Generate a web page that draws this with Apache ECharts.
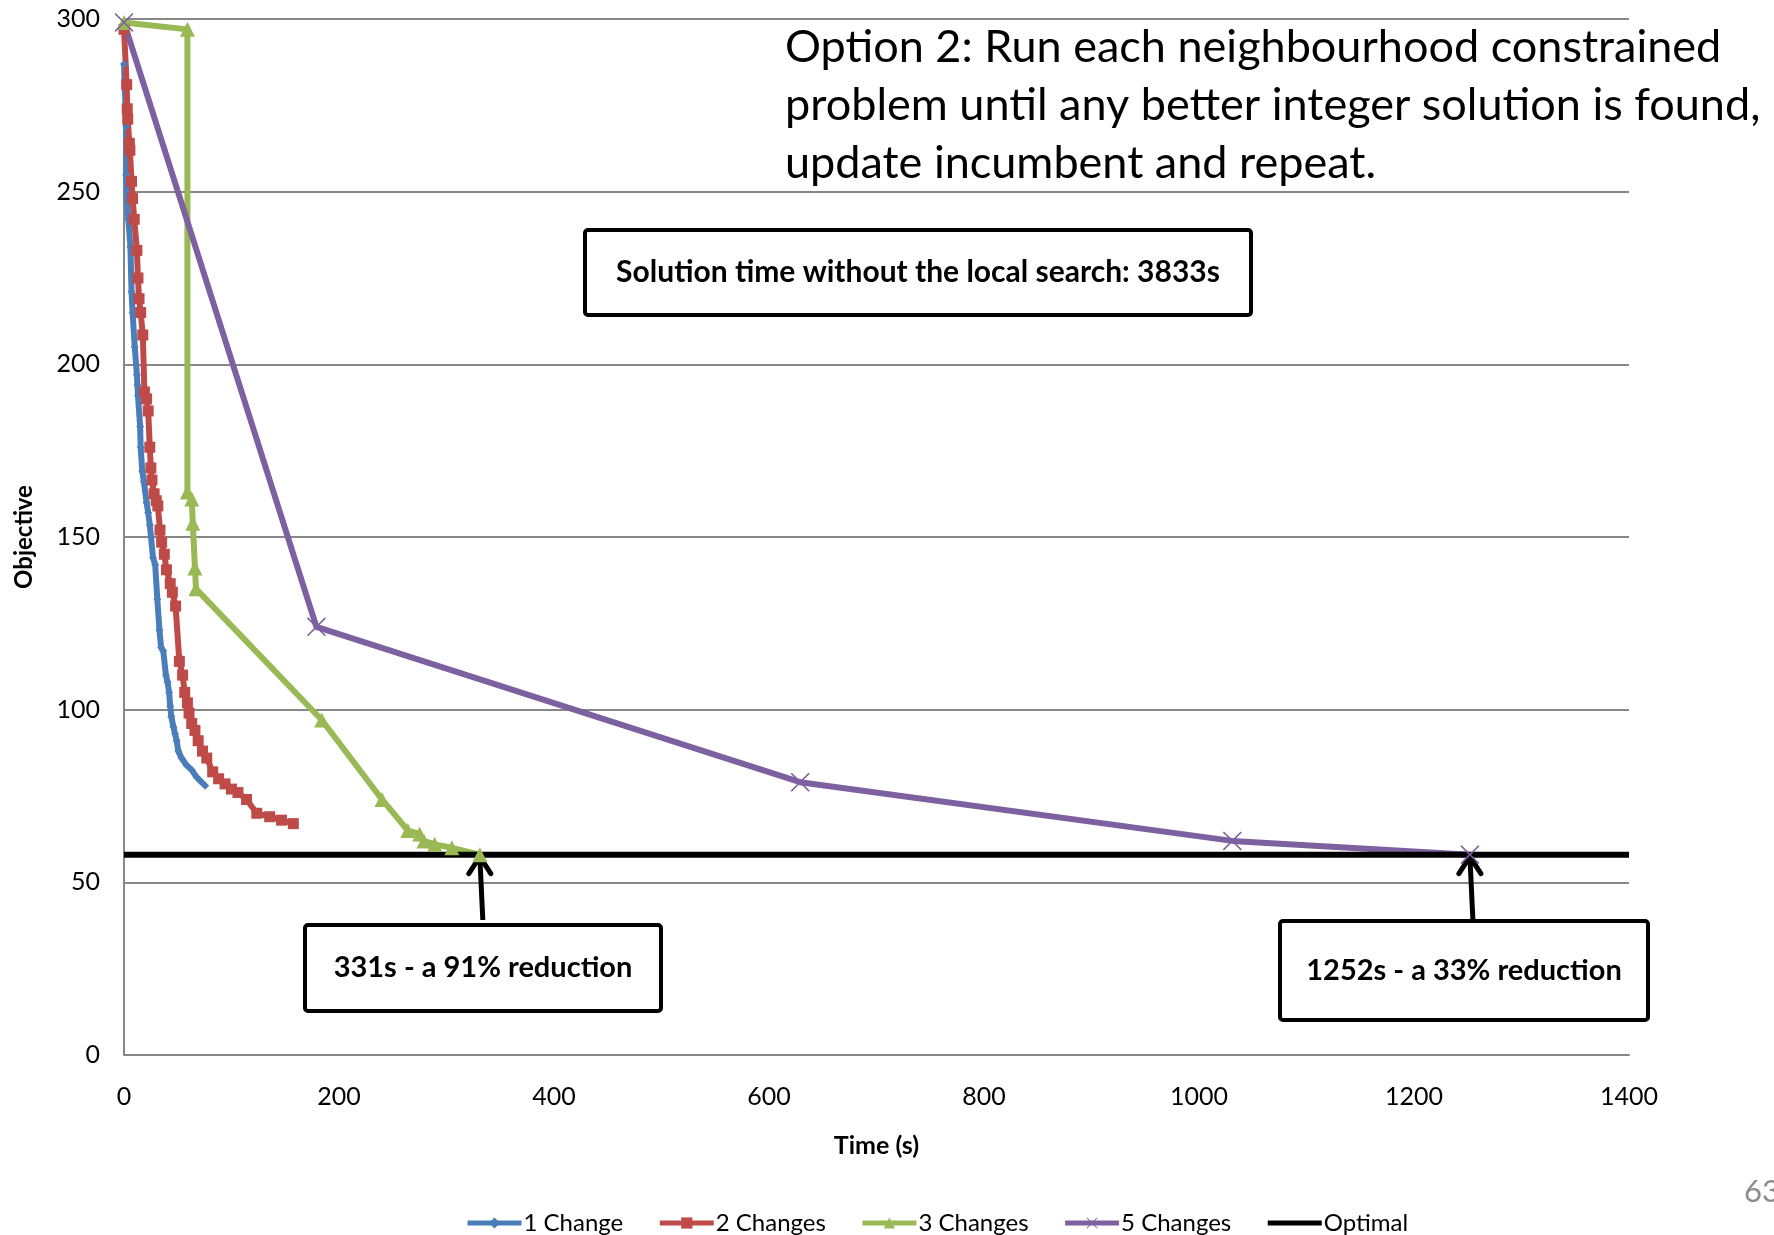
<!DOCTYPE html>
<html>
<head>
<meta charset="utf-8">
<title>Local search convergence</title>
<script src="https://cdn.jsdelivr.net/npm/echarts@6/dist/echarts.min.js"></script>
<style>
  html, body { margin: 0; padding: 0; background: #fff; }
  #chart { width: 1774px; height: 1235px; }
</style>
</head>
<body>
<div id="chart"></div>
<script>
// Objective value against elapsed time for each neighbourhood size
const change1Time = [0, 2, 2, 3, 4, 6, 7, 8, 10, 12, 12.5, 13, 15, 15.5, 17, 18.5, 21, 22.5, 24, 27, 29, 31, 33, 34.5, 36.5, 39, 40.5, 42, 43, 44, 46, 47.5, 49, 50.5, 53.5, 58, 63, 67.5, 70.5, 75.5];
const change1Obj  = [287, 269, 255, 247, 242, 234, 221, 215, 205, 197, 194, 191, 182, 176, 169, 166, 160, 157, 153.5, 144, 142, 132, 123, 118, 117, 110, 108, 105, 101, 98, 95, 93, 91, 88, 86, 84, 82.5, 80.5, 79.5, 78];

const change2Time = [0, 2.5, 3, 3.5, 5, 5.5, 7, 8, 9.5, 12, 13, 14, 15.5, 17.5, 19, 21, 22.5, 24, 25, 26, 28, 30, 31.5, 33.5, 35, 37.5, 39.5, 43, 45, 48, 51.5, 54.5, 56.5, 59, 60.5, 63, 66, 69, 73, 77, 82.5, 88, 94, 100, 106, 114, 123.5, 135.5, 146.5, 157.5];
const change2Obj  = [297, 281, 274, 271, 264, 262, 253, 248, 242, 233, 225, 219, 215, 208.5, 192, 190, 186.5, 176, 170, 166.5, 162.5, 160.5, 159, 152, 148.5, 145, 140.5, 136.5, 134, 130, 114, 110, 105, 102, 99, 96, 94, 91, 88, 86, 82, 80, 78.5, 77, 76, 74, 70, 69, 68, 67];

const change3Time = [0, 59, 59, 63, 64, 66, 67, 184, 240, 264, 275, 279, 289, 305, 331];
const change3Obj  = [299, 297, 163, 161, 154, 141, 135, 97, 74, 65, 64, 62, 61, 60, 58];

const change5Time = [0, 179, 629, 1031, 1252];
const change5Obj  = [299, 124, 79, 62, 58];

const optimalTime = [0, 1400];
const optimalObj  = [58, 58];

const seriesNames = ['1 Change', '2 Changes', '3 Changes', '5 Changes', 'Optimal'];
const xTicks = { min: 0, max: 1400, step: 200 };
const yTicks = { min: 0, max: 300, step: 50 };

const headline = 'Option 2: Run each neighbourhood constrained\nproblem until any better integer solution is found,\nupdate incumbent and repeat.';
const baselineNote = 'Solution time without the local search: 3833s';
const note3 = '331s - a 91% reduction';
const note5 = '1252s - a 33% reduction';
const pageNumber = '63';

const zip = (xs, ys) => xs.map((x, i) => [x, ys[i]]);

const FONT = 'Lato, "Open Sans", sans-serif';
const GRID_GREY = '#878787';
const crossSymbol = 'path://M0,6L6,0L50,44L94,0L100,6L56,50L100,94L94,100L50,56L6,100L0,94L44,50Z';

const chart = echarts.init(document.getElementById('chart'), null, { renderer: 'canvas' });

// the reference line gets a plain line in the legend, without a marker
const legendItems = seriesNames.map(name =>
  name === 'Optimal' ? { name: name, itemStyle: { opacity: 0 } } : { name: name });

const option = {
  animation: false,
  backgroundColor: '#ffffff',
  textStyle: { fontFamily: FONT, color: '#000' },
  grid: { left: 124, right: 145, top: 19, bottom: 180 },
  xAxis: {
    type: 'value',
    min: xTicks.min, max: xTicks.max, interval: xTicks.step,
    name: 'Time (s)', nameLocation: 'middle', nameGap: 78,
    nameTextStyle: { fontFamily: FONT, fontWeight: 'bold', fontSize: 25, color: '#000' },
    axisLine: { show: true, lineStyle: { color: GRID_GREY, width: 2 } },
    axisTick: { show: false },
    splitLine: { show: false },
    axisLabel: { fontFamily: FONT, fontSize: 25, color: '#000', margin: 29,
                 formatter: v => String(v) }
  },
  yAxis: {
    type: 'value',
    min: yTicks.min, max: yTicks.max, interval: yTicks.step,
    name: 'Objective', nameLocation: 'middle', nameGap: 88, nameRotate: 90,
    nameTextStyle: { fontFamily: FONT, fontWeight: 'bold', fontSize: 24, color: '#000' },
    axisLine: { show: true, lineStyle: { color: GRID_GREY, width: 2 } },
    axisTick: { show: false },
    splitLine: { show: true, lineStyle: { color: GRID_GREY, width: 2 } },
    axisLabel: { fontFamily: FONT, fontSize: 25, color: '#000', margin: 24,
                 formatter: v => String(v) }
  },
  legend: {
    data: legendItems,
    left: 460, top: 1206,
    itemWidth: 54, itemHeight: 14, itemGap: 34,
    lineStyle: { width: 5 },
    textStyle: { fontFamily: FONT, fontSize: 24, color: '#000', padding: [0, 0, 0, -3] }
  },
  series: [
    {
      name: seriesNames[0], type: 'line', data: zip(change1Time, change1Obj),
      symbol: 'diamond', symbolSize: 8,
      itemStyle: { color: '#4A7EBB' }, lineStyle: { color: '#4A7EBB', width: 6 }
    },
    {
      name: seriesNames[1], type: 'line', data: zip(change2Time, change2Obj),
      symbol: 'rect', symbolSize: 11,
      itemStyle: { color: '#BE4B48' }, lineStyle: { color: '#BE4B48', width: 6 }
    },
    {
      name: seriesNames[2], type: 'line', data: zip(change3Time, change3Obj),
      symbol: 'triangle', symbolSize: 15,
      itemStyle: { color: '#98B954' }, lineStyle: { color: '#98B954', width: 6 }
    },
    {
      name: seriesNames[3], type: 'line', data: zip(change5Time, change5Obj),
      symbol: crossSymbol, symbolSize: 19,
      itemStyle: { color: '#7D60A0' }, lineStyle: { color: '#7D60A0', width: 6 }
    },
    {
      name: seriesNames[4], type: 'line', data: zip(optimalTime, optimalObj),
      symbol: 'none',
      itemStyle: { color: '#000' }, lineStyle: { color: '#000', width: 6 }
    }
  ]
};

chart.setOption(option);

// Annotation boxes and arrows pointing at the runs that reach the optimum
function noteBox(x, y, w, h, text, size) {
  return {
    type: 'group',
    children: [
      { type: 'rect', shape: { x: x, y: y, width: w, height: h, r: 3 },
        style: { fill: '#fff', stroke: '#000', lineWidth: 4 } },
      { type: 'text', x: x + w / 2, y: y + h / 2,
        style: { text: text, fontFamily: FONT, fontWeight: 'bold', fontSize: size, fill: '#000',
                 align: 'center', verticalAlign: 'middle' } }
    ]
  };
}

function arrowTo(tip, tailX, tailY) {
  return {
    type: 'group',
    children: [
      { type: 'line', shape: { x1: tailX, y1: tailY, x2: tip[0], y2: tip[1] + 2 },
        style: { stroke: '#000', lineWidth: 5 } },
      { type: 'polyline',
        shape: { points: [[tip[0] - 11, tip[1] + 19], [tip[0], tip[1] + 2], [tip[0] + 11, tip[1] + 19]] },
        style: { stroke: '#000', lineWidth: 5, fill: null, lineJoin: 'miter', lineCap: 'round' } }
    ]
  };
}

const tip3 = chart.convertToPixel({ gridIndex: 0 }, [change3Time[change3Time.length - 1], change3Obj[change3Obj.length - 1]]);
const tip5 = chart.convertToPixel({ gridIndex: 0 }, [change5Time[change5Time.length - 1], change5Obj[change5Obj.length - 1]]);

chart.setOption({
  graphic: [
    { type: 'text', left: 785, top: 18,
      style: { text: headline, fontFamily: FONT, fontSize: 45, lineHeight: 58, fill: '#000' } },
    noteBox(585, 230, 666, 85, baselineNote, 30),
    noteBox(305, 925, 356, 86, note3, 29),
    noteBox(1280, 921, 368, 99, note5, 29),
    arrowTo(tip3, tip3[0] + 3, 920),
    arrowTo(tip5, tip5[0] + 3, 920),
    { type: 'text', left: 1744, top: 1176,
      style: { text: pageNumber, fontFamily: FONT, fontSize: 31, fill: '#8c8c8c' } }
  ]
});
</script>
</body>
</html>
